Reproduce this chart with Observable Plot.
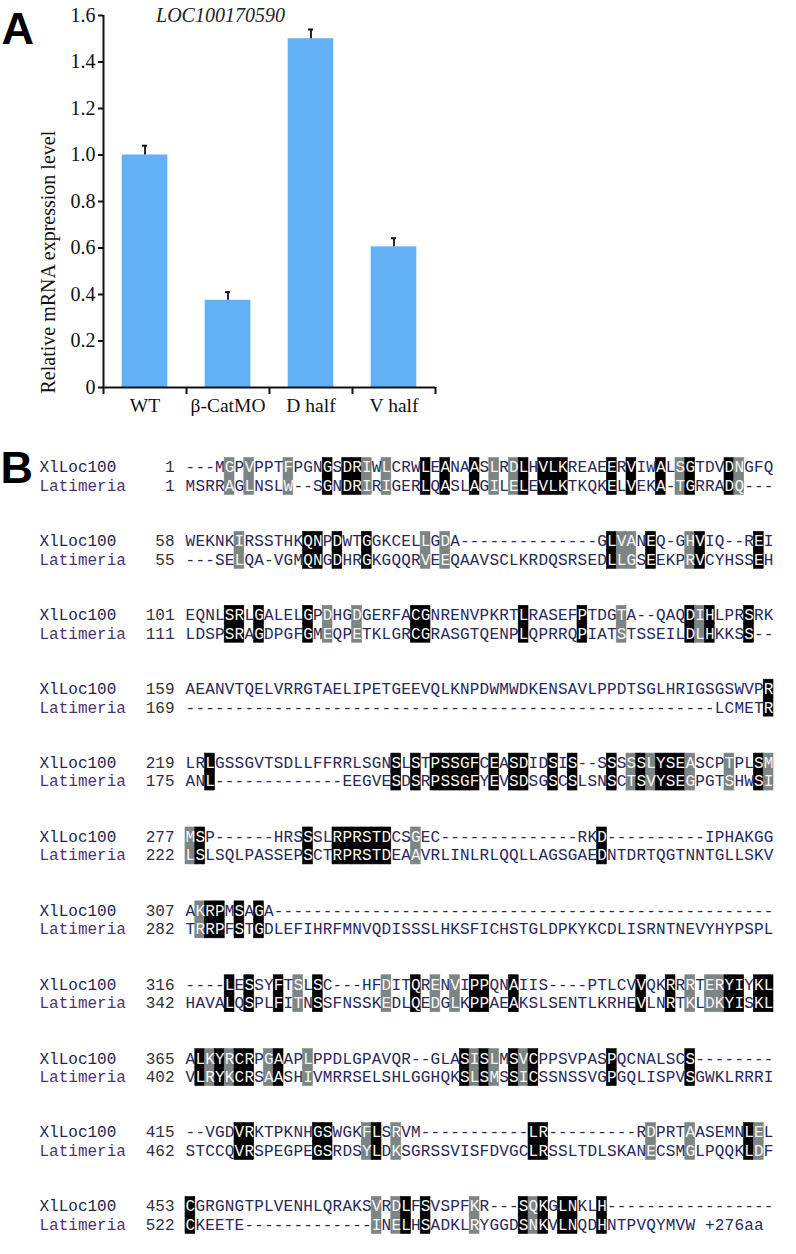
<!DOCTYPE html>
<html>
<head>
<meta charset="utf-8">
<script src="https://cdn.jsdelivr.net/npm/d3@7"></script>
<script src="https://cdn.jsdelivr.net/npm/@observablehq/plot@0.6"></script>
<style>
  html, body { margin: 0; padding: 0; background: #fff; }
  #wrap { position: relative; width: 796px; height: 1254px; overflow: hidden; background: #fff; }
  #wrap > svg { position: absolute; left: 0; }
</style>
</head>
<body>
<div id="wrap"></div>
<script>
// ---------- Panel A data ----------
const categories = ["WT", "β-CatMO", "D half", "V half"];
const values = [1.0, 0.375, 1.50, 0.605];
const errors = [0.04, 0.035, 0.04, 0.037];
const yTicks = [0, 0.2, 0.4, 0.6, 0.8, 1.0, 1.2, 1.4, 1.6];
const geneTitle = "LOC100170590";
const yLabel = "Relative mRNA expression level";

// ---------- Panel B data ----------
const seqNames = ["XlLoc100", "Latimeria"];
const xlStarts = [1, 58, 101, 159, 219, 277, 307, 316, 365, 415, 453];
const latStarts = [1, 55, 111, 169, 175, 222, 282, 342, 402, 462, 522];
const xlSeqs = [
  "---MGPVPPT|FPGNGSDRIW|LCRWLEANAA|SLRDLHVLKR|EAEERVIWAL|SGTDVDNGFQ",
  "WEKNKIRSST|HKQNPDWTGG|KCELLGDA--|----------|--GLVANEQ-|GHVIQ--REI",
  "EQNLSRLGAL|ELGPDHGDGE|RFACGNRENV|PKRTLRASEF|PTDGTA--QA|QDIHLPRSRK",
  "AEANVTQELV|RRGTAELIPE|TGEEVQLKNP|DWMWDKENSA|VLPPDTSGLH|RIGSGSWVPR",
  "LRLGSSGVTS|DLLFFRRLSG|NSLSTPSSGF|CEASDIDSIS|--SSSSSLYS|EASCPTPLSM",
  "MSP------H|RSSSLRPRST|DCSGEC----|----------|RKD-------|---IPHAKGG",
  "AKRPMSAGA-|----------|----------|----------|----------|----------",
  "----LESSYF|TSLSC---HF|DITQRENVIP|PQNAIIS---|-PTLCVVQKR|RRTERYIYKL",
  "ALKYRCRPGA|APLPPDLGPA|VQR--GLASI|SLMSVCPPSV|PASPQCNALS|CS--------",
  "--VGDVRKTP|KNHGSWGKFL|SRVM------|-----LR---|------RDPR|TAASEMNLEL",
  "CGRGNGTPLV|ENHLQRAKSV|RDLFSVSPFK|R---SQKGLN|KLH-------|----------"
];
const latSeqs = [
  "MSRRAGLNSL|W--SGNDRIR|IGERLQASLA|GILELEVLKT|KQKELVEKA-|TGRRADQ---",
  "---SELQA-V|GMQNGDHRGK|GQQRVEEQAA|VSCLKRDQSR|SEDLLGSEEK|PRVCYHSSEH",
  "LDSPSRAGDP|GFGMEQPETK|LGRCGRASGT|QENPLQPRRQ|PIATSTSSEI|LDLHKKSS--",
  "----------|----------|----------|----------|----------|----LCMETR",
  "ANL-------|------EEGV|ESDSRPSSGF|YEVSDSGSCS|LSNSCTSVYS|EGPGTSHWSI",
  "LSLSQLPASS|EPSCTRPRST|DEAAVRLINL|RLQQLLAGSG|AEDNTDRTQG|TNNTGLLSKV",
  "TRRPFSTGDL|EFIHRFMNVQ|DISSSLHKSF|ICHSTGLDPK|YKCDLISRNT|NEVYHYPSPL",
  "HAVALQSPLF|ITNSSFNSSK|EDLQEDGLKP|PAEAKSLSEN|TLKRHEVLNR|TKLDKYISKL",
  "VLRYKCRSAA|SHIVMRRSEL|SHLGGHQKSL|SMSSICSSNS|SVGPGQLISP|VSGWKLRRRI",
  "STCCQVRSPE|GPEGSRDSYL|DKSGRSSVIS|FDVGCLRSSL|TDLSKANECS|MGLPQQKLDF",
  "CKEETE----|---------I|NELHSADKLR|YGGDSNKVLN|QDHNTPVQYM|VW +276aa "
];
// shading per column: b = identical (black), g = similar (grey), . = none
const shadeMasks = [
  "....g.g...|g...b.bbg.|g...b.b..b|.g.gb.bbb.|...b.b..b.|gb...bg...",
  ".....g....|..bb.b..b.|....g.g...|..........|...bgg.b..|.gb.....b.",
  "....bb.b..|..b.g..g..|...bb.....|....b.....|b...g.....|.bgb...b..",
  "..........|..........|..........|..........|..........|.........b",
  "..b.......|..........|.b.b.bbbbb|.b.bb..b.b|...b.gbgbb|bg...g..bg",
  "gb........|..b..bbbbb|b..g......|..........|..b.......|..........",
  ".gbb.b.b..|..........|..........|..........|..........|..........",
  "....b.b..b|.g.b......|g..b.g.g.b|b..b......|......b..b|.g.ggbb.bb",
  ".bgbgbb.gb|..g.......|........bg|bg.bgb....|...b......|.b........",
  ".....bb...|...bb...gb|.g........|.....bb...|.......g..|.g.....bg.",
  "b.........|.........g|.gb.b....g|....bgb.bb|..b.......|.........."
];

const wrap = document.getElementById("wrap");

// ---------- Panel A ----------
const barTable = categories.map((c, i) => ({c, i, v: values[i], e: errors[i]}));
const serif = "'Liberation Serif','Times New Roman',serif";
const chartA = Plot.plot({
  width: 796,
  height: 430,
  marginLeft: 103,
  marginRight: 361,
  marginTop: 15,
  marginBottom: 43,
  x: {domain: [0, categories.length]},
  y: {domain: [0, 1.6]},
  style: {background: "transparent", fontFamily: serif, fontSize: "19px", color: "#111", overflow: "visible"},
  marks: [
    Plot.rectY(barTable, {x1: d => d.i + 0.225, x2: d => d.i + 0.775, y1: 0, y2: "v", fill: "#62b1f6"}),
    Plot.ruleX(barTable, {x: d => d.i + 0.5, y1: "v", y2: d => d.v + d.e, stroke: "#111", strokeWidth: 1.8}),
    Plot.ruleY(barTable, {y: d => d.v + d.e, x1: d => d.i + 0.47, x2: d => d.i + 0.53, stroke: "#111", strokeWidth: 2}),
    Plot.ruleX([0], {y1: 0, y2: 1.6, stroke: "#111", strokeWidth: 2}),
    Plot.ruleY([0], {x1: 0, x2: categories.length, stroke: "#111", strokeWidth: 2}),
    Plot.axisY({ticks: yTicks, tickSize: 5, tickPadding: 3, strokeWidth: 2, stroke: "#111",
      tickFormat: d => d === 0 ? "0" : d.toFixed(1), fontSize: 20, fontFamily: serif, fill: "#111", label: null}),
    Plot.axisX({ticks: d3.range(0, categories.length + 1), tickSize: 7, strokeWidth: 2, stroke: "#111",
      tickFormat: () => "", label: null}),
    Plot.axisX({ticks: categories.map((c, i) => i + 0.5), tickSize: 0, tickPadding: 11,
      tickFormat: d => categories[Math.floor(d)], fontSize: 19.5, fontFamily: serif, fill: "#111", label: null}),
    Plot.text([yLabel], {frameAnchor: "bottom-left", dx: -55, dy: 6, rotate: -90, textAnchor: "start",
      lineAnchor: "middle", fontSize: 20, fontFamily: serif, fill: "#111"}),
    Plot.text([geneTitle], {frameAnchor: "top-left", dx: 117, dy: 0, textAnchor: "middle", lineAnchor: "middle",
      fontSize: 20, fontStyle: "italic", fontFamily: serif, fill: "#222"}),
    Plot.text(["A"], {frameAnchor: "top-left", dx: -102, dy: 14, textAnchor: "start", lineAnchor: "middle",
      fontSize: 45, fontWeight: "bold", fontFamily: "'Liberation Sans',Arial,sans-serif", fill: "#000"})
  ]
});
chartA.style.top = "0px";
wrap.appendChild(chartA);

// ---------- Panel B ----------
const clean = s => s.split("|").join("");
const cells = [];
const labels = [];
xlSeqs.forEach((_, k) => {
  const pair = [clean(xlSeqs[k]), clean(latSeqs[k])];
  const mask = clean(shadeMasks[k]);
  const starts = [xlStarts[k], latStarts[k]];
  pair.forEach((seq, s) => {
    const r = k * 4 + s;
    labels.push({r, name: seqNames[s], start: String(starts[s]), s});
    for (let j = 0; j < seq.length; j++) {
      const ch = seq[j];
      cells.push({r, j, ch, shade: ch === " " ? "." : mask[j]});
    }
  });
});
const shaded = cells.filter(d => d.shade !== ".");
const textCells = cells.filter(d => d.ch !== " ");
const mono = "'Liberation Mono','Courier New',monospace";
const boxColor = d => d.shade === "b" ? "#000000" : "#7d8484";
const chartB = Plot.plot({
  width: 796,
  height: 824,
  marginLeft: 0, marginRight: 0, marginTop: 0, marginBottom: 0,
  x: {domain: [0, 60], range: [185, 773], axis: null},
  y: {domain: [0, 42], range: [27.5, 803.4], axis: null},
  style: {background: "transparent", overflow: "visible"},
  marks: [
    Plot.rect(shaded, {x1: d => d.j, x2: d => d.j + 1, y1: d => d.r, y2: d => d.r + 1,
      fill: boxColor, stroke: boxColor, strokeWidth: 0.6}),
    Plot.text(textCells, {x: d => d.j + 0.5, y: d => d.r + 0.5, text: "ch",
      fill: d => d.shade === "." ? "#28285a" : "#f6f6f6",
      fontFamily: mono, fontSize: 16, lineAnchor: "middle", textAnchor: "middle"}),
    Plot.text(labels, {x: -14.9, y: d => d.r + 0.5, text: "name", textAnchor: "start", lineAnchor: "middle",
      fill: d => d.s === 0 ? "#23234e" : "#4d3170", fontFamily: mono, fontSize: 16}),
    Plot.text(labels, {x: -1.12, y: d => d.r + 0.5, text: "start", textAnchor: "end", lineAnchor: "middle",
      fill: "#303040", fontFamily: mono, fontSize: 16}),
    Plot.text(["B"], {frameAnchor: "top-left", dx: 0, dy: 38, textAnchor: "start", lineAnchor: "middle",
      fontSize: 45, fontWeight: "bold", fontFamily: "'Liberation Sans',Arial,sans-serif", fill: "#000"})
  ]
});
chartB.style.top = "430px";
wrap.appendChild(chartB);
</script>
</body>
</html>
